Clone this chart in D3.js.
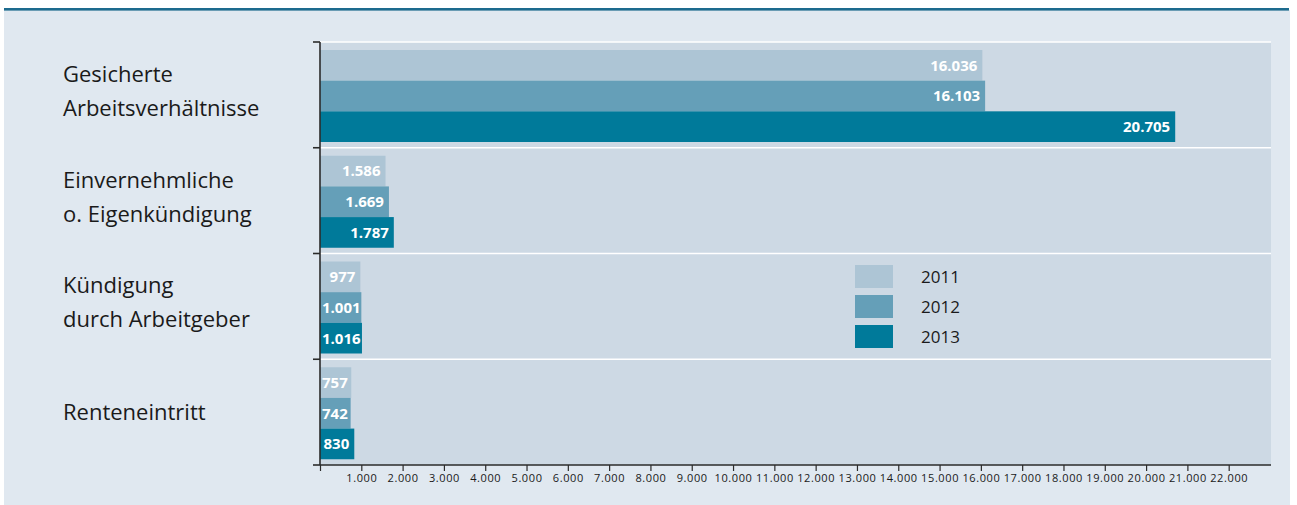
<!DOCTYPE html>
<html>
<head>
<meta charset="utf-8">
<script src="https://cdn.jsdelivr.net/npm/d3@7"></script>
<style>
  html, body { margin: 0; padding: 0; background: #ffffff; }
  svg { display: block; font-family: "Open Sans", "Noto Sans", sans-serif; }
</style>
</head>
<body>
<svg id="chart" width="1297" height="505"></svg>
<script>
// ---- data ----
const categories = [
  "Gesicherte\nArbeitsverhältnisse",
  "Einvernehmliche\no. Eigenkündigung",
  "Kündigung\ndurch Arbeitgeber",
  "Renteneintritt"
];
const years = ["2011", "2012", "2013"];
const values2011 = [16036, 1586, 977, 757];
const values2012 = [16103, 1669, 1001, 742];
const values2013 = [20705, 1787, 1016, 830];
const tickValues = [0, 1000, 2000, 3000, 4000, 5000, 6000, 7000, 8000, 9000, 10000, 11000,
                    12000, 13000, 14000, 15000, 16000, 17000, 18000, 19000, 20000, 21000, 22000];
const colors = ["#adc5d5", "#659fb8", "#007a9a"];

const series = [values2011, values2012, values2013];

const de = d3.formatLocale({decimal: ",", thousands: ".", grouping: [3], currency: ["", " €"]});
const fmt = de.format(",d");

const svg = d3.select("#chart");

// panel background + top rule
svg.append("rect").attr("x", 4).attr("y", 10).attr("width", 1286).attr("height", 495).attr("fill", "#e0e8f0");
svg.append("rect").attr("x", 4).attr("y", 8).attr("width", 1285).attr("height", 2.6).attr("fill", "#1d6b8e");

// scales
const x = d3.scaleLinear().domain([0, 23000]).range([320, 1270]);
const y = d3.scaleBand().domain(categories).range([42, 465]).padding(0);
const yInner = d3.scaleBand().domain(years).range([8, 100]).padding(0);

const plotX0 = 320, plotX1 = 1271, plotY0 = 42, plotY1 = 465;

// plot background
svg.append("rect").attr("x", plotX0).attr("y", plotY0)
  .attr("width", plotX1 - plotX0).attr("height", plotY1 - plotY0).attr("fill", "#cdd9e4");

// white separators
svg.append("g").selectAll("line").data(categories).join("line")
  .attr("x1", plotX0).attr("x2", plotX1)
  .attr("y1", d => y(d)).attr("y2", d => y(d))
  .attr("stroke", "#ffffff").attr("stroke-width", 1.6);

// bars
const groups = svg.append("g").selectAll("g").data(categories).join("g")
  .attr("transform", d => `translate(0,${y(d)})`);

groups.each(function(cat, ci) {
  const g = d3.select(this);
  years.forEach((yr, si) => {
    const v = series[si][ci];
    g.append("rect")
      .attr("x", x(0))
      .attr("y", yInner(yr))
      .attr("width", x(v) - x(0))
      .attr("height", yInner.bandwidth())
      .attr("fill", colors[si]);
  });
});

// value labels
groups.each(function(cat, ci) {
  const g = d3.select(this);
  years.forEach((yr, si) => {
    const v = series[si][ci];
    const t = g.append("text")
      .attr("y", yInner(yr) + yInner.bandwidth() / 2)
      .attr("dy", "0.36em")
      .attr("text-anchor", "end")
      .attr("fill", "#ffffff")
      .attr("font-size", 15)
      .attr("font-weight", 700)
      .text(fmt(v));
    const w = t.node().getComputedTextLength();
    let right = x(v) - 5;
    if (right - w < 322) right = 322 + w;
    t.attr("x", right);
  });
});

// category labels
svg.append("g").selectAll("text").data(categories).join("text")
  .attr("x", 63)
  .attr("fill", "#1a1a1a")
  .attr("font-size", 22)
  .each(function(d) {
    const lines = d.split("\n");
    const c = y(d) + y.bandwidth() / 2;
    const t = d3.select(this);
    if (lines.length === 1) {
      t.append("tspan").attr("x", 63).attr("y", c + 8).text(lines[0]);
    } else {
      lines.forEach((ln, i) => {
        t.append("tspan").attr("x", 63).attr("y", c - 13 + i * 34).text(ln);
      });
    }
  });

// left axis
const axisColor = "#2b2b2b";
svg.append("line").attr("x1", plotX0).attr("x2", plotX0).attr("y1", plotY0).attr("y2", plotY1)
  .attr("stroke", axisColor).attr("stroke-width", 1.6);
const bounds = categories.map(c => y(c)).concat([y.range()[1]]);
svg.append("g").selectAll("line").data(bounds).join("line")
  .attr("x1", plotX0 - 7).attr("x2", plotX0)
  .attr("y1", d => d).attr("y2", d => d)
  .attr("stroke", axisColor).attr("stroke-width", 1.6);

// bottom axis
const xAxis = d3.axisBottom(x)
  .tickValues(tickValues)
  .tickFormat(d => d === 0 ? "" : fmt(d))
  .tickSize(6).tickSizeOuter(0).tickPadding(3);
const gx = svg.append("g").attr("transform", `translate(0,${plotY1})`).call(xAxis);
gx.select(".domain").attr("d", `M${plotX0},0H${plotX1}`).attr("stroke", axisColor).attr("stroke-width", 1.6);
gx.selectAll(".tick line").attr("stroke", axisColor).attr("stroke-width", 1.2);
gx.selectAll(".tick text")
  .attr("fill", "#1a1a1a")
  .attr("font-size", 11)
  .attr("letter-spacing", "0.6px")
  .attr("font-family", "'Open Sans', 'Noto Sans', sans-serif");

// legend
const legend = svg.append("g").attr("transform", "translate(855,265)");
years.forEach((yr, i) => {
  legend.append("rect").attr("x", 0).attr("y", i * 30).attr("width", 38).attr("height", 23).attr("fill", colors[i]);
  legend.append("text").attr("x", 66).attr("y", i * 30 + 17.5)
    .attr("font-size", 17).attr("fill", "#1a1a1a").text(yr);
});
</script>
</body>
</html>
